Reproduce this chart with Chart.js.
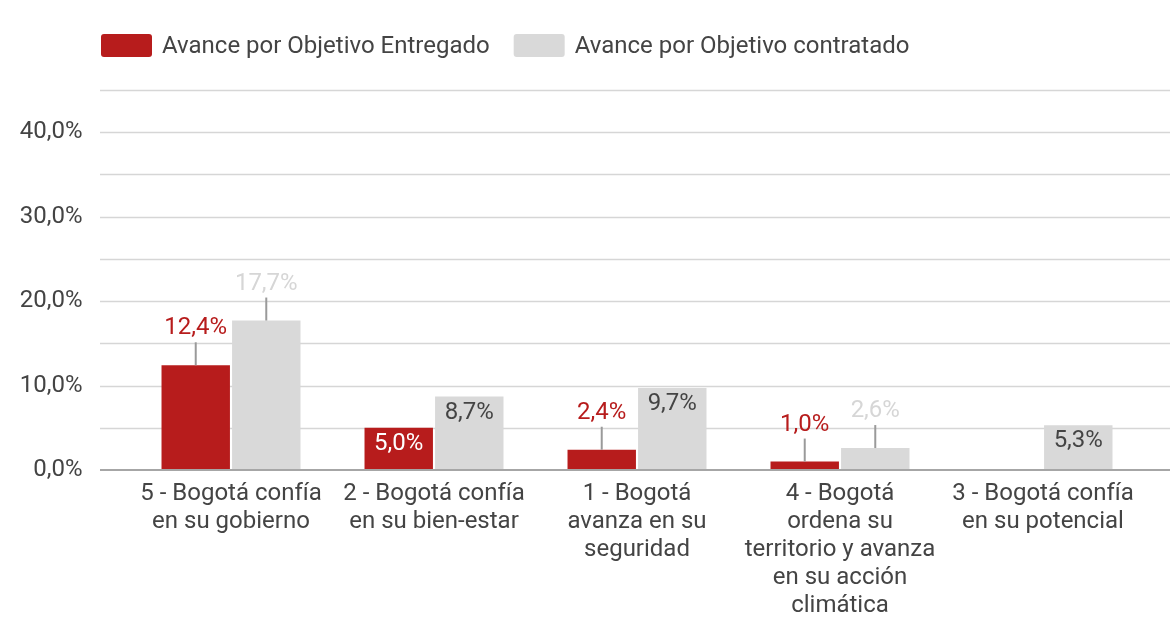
<!DOCTYPE html>
<html>
<head>
<meta charset="utf-8">
<script src="https://cdn.jsdelivr.net/npm/chart.js@4.4.0/dist/chart.umd.min.js"></script>
<style>
  html, body { margin: 0; padding: 0; background: #fff; }
</style>
</head>
<body>
<canvas id="myChart" width="1170" height="623"></canvas>
<script>
// data
const categories = [
  ['5 - Bogotá confía', 'en su gobierno'],
  ['2 - Bogotá confía', 'en su bien-estar'],
  ['1 - Bogotá', 'avanza en su', 'seguridad'],
  ['4 - Bogotá', 'ordena su', 'territorio y avanza', 'en su acción', 'climática'],
  ['3 - Bogotá confía', 'en su potencial']
];
const entregado = [12.4, 5.0, 2.4, 1.0, null];
const contratado = [17.7, 8.7, 9.7, 2.6, 5.3];
const seriesNames = ['Avance por Objetivo Entregado', 'Avance por Objetivo contratado'];
const yLabelValues = [0, 10, 20, 30, 40];

const RED = '#b71c1c';
const GRAY = '#d9d9d9';
const TEXT = '#444444';
const FONT = 'Roboto, "Liberation Sans", Arial, sans-serif';
const FSIZE = 24;

// which labels sit inside their bar (dataset-index:category-index), as in the original
const insideLabels = ['0:1', '1:1', '1:2', '1:4'];

Chart.defaults.font.family = FONT;

const fmt = v => v.toFixed(1).replace('.', ',') + '%';

// grid lines run wider than the plot area, like the original
const gridPlugin = {
  id: 'wideGrid',
  beforeDatasetsDraw(chart) {
    const ctx = chart.ctx, y = chart.scales.y;
    ctx.save();
    ctx.strokeStyle = '#d6d6d6';
    ctx.lineWidth = 1.5;
    for (let v = 5; v <= 45; v += 5) {
      const py = Math.round(y.getPixelForValue(v)) + 0.5;
      ctx.beginPath();
      ctx.moveTo(100, py);
      ctx.lineTo(chart.width, py);
      ctx.stroke();
    }
    ctx.restore();
  },
  afterDatasetsDraw(chart) {
    const ctx = chart.ctx, y = chart.scales.y;
    ctx.save();
    ctx.strokeStyle = '#a6a6a6';
    ctx.lineWidth = 2;
    const py = y.getPixelForValue(0);
    ctx.beginPath();
    ctx.moveTo(100, py);
    ctx.lineTo(chart.width, py);
    ctx.stroke();
    ctx.restore();
  }
};

// value labels: inside the bar, or above it with a short leader line
const labelPlugin = {
  id: 'barLabels',
  afterDatasetsDraw(chart) {
    const ctx = chart.ctx;
    ctx.save();
    ctx.font = FSIZE + 'px ' + FONT;
    ctx.textAlign = 'center';
    ctx.textBaseline = 'middle';
    chart.data.datasets.forEach((ds, i) => {
      chart.getDatasetMeta(i).data.forEach((bar, j) => {
        const v = ds.data[j];
        if (v == null) return;
        if (insideLabels.includes(i + ':' + j)) {
          ctx.fillStyle = i === 0 ? '#ffffff' : TEXT;
          ctx.fillText(fmt(v), bar.x, bar.y + 16);
        } else {
          ctx.strokeStyle = '#9a9a9a';
          ctx.lineWidth = 2;
          ctx.beginPath();
          ctx.moveTo(bar.x, bar.y);
          ctx.lineTo(bar.x, bar.y - 23);
          ctx.stroke();
          ctx.fillStyle = i === 0 ? RED : '#d6d6d6';
          ctx.fillText(fmt(v), bar.x, bar.y - 37);
        }
      });
    });
    ctx.restore();
  }
};

// legend drawn by hand so it can sit over the axis like the original
const legendPlugin = {
  id: 'topLegend',
  afterDraw(chart) {
    const ctx = chart.ctx;
    ctx.save();
    ctx.font = FSIZE + 'px ' + FONT;
    ctx.textBaseline = 'middle';
    let x = 101;
    const top = 34, bh = 23, bw = 51;
    chart.data.datasets.forEach(ds => {
      ctx.fillStyle = ds.backgroundColor;
      ctx.beginPath();
      ctx.roundRect(x, top, bw, bh, 3);
      ctx.fill();
      ctx.fillStyle = TEXT;
      ctx.fillText(ds.label, x + bw + 10, top + bh / 2 + 1);
      x += bw + 10 + ctx.measureText(ds.label).width + 24;
    });
    ctx.restore();
  }
};

const ctx = document.getElementById('myChart').getContext('2d');

const myChart = new Chart(ctx, {
  type: 'bar',
  data: {
    labels: categories,
    datasets: [
      { label: seriesNames[0], data: entregado, backgroundColor: RED },
      { label: seriesNames[1], data: contratado, backgroundColor: GRAY }
    ]
  },
  options: {
    responsive: false,
    animation: false,
    categoryPercentage: 0.695,
    barPercentage: 0.97,
    layout: { padding: { top: 90, right: 25.5, left: 0, bottom: 0 } },
    plugins: {
      legend: { display: false },
      tooltip: { enabled: false }
    },
    scales: {
      x: {
        grid: { display: false, drawTicks: false },
        border: { display: false },
        ticks: {
          color: TEXT,
          font: { size: FSIZE, lineHeight: 1.167 },
          padding: 10,
          maxRotation: 0,
          autoSkip: false
        },
        afterFit(scale) { scale.height = 153; }
      },
      y: {
        min: 0,
        max: 45,
        grid: { display: false, drawTicks: false },
        border: { display: false },
        ticks: {
          stepSize: 5,
          autoSkip: false,
          color: TEXT,
          font: { size: FSIZE },
          padding: 47,
          callback: v => yLabelValues.includes(v) ? fmt(v) : ''
        },
        afterFit(scale) { scale.width = 129.5; }
      }
    }
  },
  plugins: [gridPlugin, labelPlugin, legendPlugin]
});
</script>
</body>
</html>
